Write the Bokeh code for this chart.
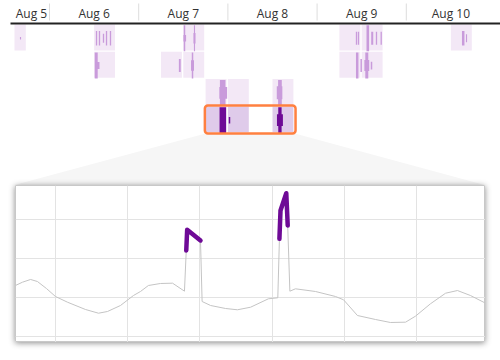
from bokeh.plotting import figure
from bokeh.layouts import column
from bokeh.models import Range1d, BoxAnnotation, FixedTicker, Grid
from bokeh.core.properties import value
from bokeh.embed import file_html
from bokeh.resources import INLINE

# ---------------- data ----------------
# time axis: hours since Aug 5 00:00
day_labels = ["Aug 5", "Aug 6", "Aug 7", "Aug 8", "Aug 9", "Aug 10"]
day_start_h = [0, 24, 48, 72, 96, 120]

# 6-hour activity blocks (row = detail level)
block_rows = [0, 0, 0, 0, 0, 0, 1, 1, 1, 1, 1, 2, 2, 2, 3, 3, 3]
block_starts = [12, 36, 60, 102, 108, 132, 36, 54, 60, 102, 108, 66, 72, 84, 66, 72, 84]
block_len_h = 6

# events inside blocks: row, time (h), duration (h), spread (share of row height)
event_rows = [0, 0, 0, 0, 0, 0, 0, 0, 0, 0,
              0, 0, 0, 0, 0, 0, 0, 0,
              1, 1, 1, 1, 1, 1, 1, 1, 1, 1,
              2, 2, 2, 2,
              3, 3, 3, 3]
event_time = [16.2, 36.65, 37.45, 38.53, 39.34, 40.41, 60.32, 60.4, 63.01, 63.01,
              106.6, 107.14, 109.64, 110.83, 111.98, 113.25, 135.31, 136.2,
              36.57, 36.9, 59.06, 62.48, 62.48, 106.79, 107.86, 109.37, 109.37, 110.64,
              70.6, 70.75, 86.0, 85.9,
              70.63, 72.43, 86.0, 86.0]
event_dur = [0.3, 0.35, 0.35, 0.35, 0.35, 0.35, 0.4, 0.7, 0.3, 0.55,
             0.35, 0.35, 0.7, 0.55, 0.35, 0.35, 0.67, 0.3,
             0.8, 1.1, 0.5, 0.4, 0.8, 0.67, 0.4, 0.8, 1.3, 0.4,
             1.5, 2.1, 1.0, 1.5,
             1.75, 0.4, 0.9, 1.6]
event_spread = [0.1, 0.55, 0.55, 0.35, 0.55, 0.55, 1.0, 0.25, 1.0, 0.4,
                0.5, 0.5, 1.0, 0.5, 0.5, 0.5, 0.55, 0.3,
                1.0, 0.27, 0.5, 1.0, 0.4, 1.0, 0.5, 1.0, 0.43, 0.3,
                1.0, 0.45, 1.0, 0.5,
                1.0, 0.25, 1.0, 0.45]

selection_start_h = 66
selection_end_h = 90
selection_row = 3

# detail series (hours on detail axis, value)
line_t = [-2.24, -1.85, -1.4, -1.02, -0.52, -0.02, 0.65, 1.65, 2.37, 2.87, 3.59, 4.31, 4.7,
          5.14, 5.81, 6.48, 7.14, 7.24, 7.29, 8.03, 8.12, 8.59, 9.42, 10.08, 10.81, 11.8,
          12.32, 12.41, 12.47, 12.79, 12.87, 12.99, 13.3, 14.41, 15.52, 15.97, 16.74, 17.74,
          18.57, 19.41, 19.96, 20.79, 21.63, 22.29, 23.01, 23.85]
line_v = [13.08, 13.92, 14.62, 14.1, 12.31, 10.26, 8.79, 6.92, 5.97, 6.41, 7.95, 10.51, 11.54,
          13.08, 13.59, 13.67, 11.62, 22.05, 27.36, 24.62, 8.97, 7.95, 7.18, 6.85, 7.51, 9.67,
          9.92, 25.05, 32.31, 36.74, 28.46, 11.62, 12.23, 11.54, 10.26, 9.41, 5.38, 4.36,
          3.59, 3.67, 5.21, 8.38, 11.1, 11.79, 10.51, 8.54]
alert_t = [[7.24, 7.29, 8.03], [12.41, 12.47, 12.79, 12.87]]
alert_v = [[22.05, 27.36, 24.62], [25.05, 32.31, 36.74, 28.46]]
grid_t = [0, 4, 8, 12, 16, 20]
grid_v = [0, 10, 20, 30]

# ---------------- layout constants ----------------
FONT = "Open Sans"
PX_H = 24 / 89.2          # hours per pixel on the timeline
X_LO = 24 - 49 * PX_H
X_HI = X_LO + 500 * PX_H
ROW_PX = 27.3
Y_HI = 24 / ROW_PX
Y_LO = Y_HI - 185 / ROW_PX
ROW_H = 0.95
VISIBLE_START = X_LO + 14 * PX_H

light_block = "#f3e8f6"
sel_block = "#dfcbea"
light_bar = "#c99bdb"
dark = "#6e0a96"

p = figure(width=500, height=185, x_range=Range1d(X_LO, X_HI), y_range=Range1d(Y_LO, Y_HI),
           output_backend="svg", toolbar_location=None, min_border=0,
           x_axis_location=None, y_axis_location=None, outline_line_color=None)
p.grid.visible = False

# funnel towards detail panel
panel_left_h = X_LO + 12 * PX_H
panel_right_h = X_LO + 486 * PX_H
sel_bottom = -selection_row - 0.99
p.patch([selection_start_h, selection_end_h, panel_right_h, panel_left_h],
        [sel_bottom, sel_bottom, Y_LO, Y_LO], fill_color="#f6f6f6", line_color=None)

# blocks
gap = 1.4 * PX_H
bl = [max(s, VISIBLE_START) for s in block_starts]
br = [s + block_len_h - gap for s in block_starts]
bt = [-r for r in block_rows]
bb = [-r - ROW_H for r in block_rows]
bc = [sel_block if r == selection_row else light_block for r in block_rows]
p.quad(left=bl, right=br, top=bt, bottom=bb, fill_color=bc, line_color=None)

# events
ey = [-r - ROW_H * 0.53 for r in event_rows]
eh = [ROW_H * s for s in event_spread]
ec = [dark if r == selection_row else light_bar for r in event_rows]
p.rect(x=event_time, y=ey, width=event_dur, height=eh, fill_color=ec, line_color=None)

# selection window
p.add_layout(BoxAnnotation(left=selection_start_h - 0.2, right=selection_end_h + 0.2,
                           top=-selection_row + 0.03, bottom=sel_bottom,
                           fill_alpha=0, line_color="#ff8040", line_alpha=1.0,
                           line_width=2.5, border_radius=3))

# time axis
axis_y = Y_HI - 23 / ROW_PX
p.segment(x0=[X_LO + 10 * PX_H], y0=[axis_y], x1=[X_HI], y1=[axis_y],
          line_color="#222222", line_width=2)
bounds = day_start_h[1:]
p.segment(x0=bounds, y0=[Y_HI - 20 / ROW_PX] * len(bounds), x1=bounds,
          y1=[Y_HI - 3 / ROW_PX] * len(bounds), line_color="#dddddd", line_width=1)
label_x = [max(s + 12, X_LO + 31 * PX_H) for s in day_start_h]
p.text(x=label_x, y=[Y_HI - 13 / ROW_PX] * len(day_labels), text=day_labels,
       text_align="center", text_baseline="middle", text_font=value(FONT),
       text_font_size="12px", text_color="#333333")

# ---------------- detail panel ----------------
p2 = figure(width=470, height=157, x_range=Range1d(-2.236, 23.846), y_range=Range1d(-1.54, 38.72),
            output_backend="svg", toolbar_location=None, min_border=0,
            x_axis_location=None, y_axis_location=None,
            outline_line_color="#c8c8c8", margin=(0, 0, 0, 15),
            styles={"box-shadow": "0px 1px 6px rgba(0,0,0,0.45)"})
p2.grid.visible = False
p2.add_layout(Grid(dimension=0, ticker=FixedTicker(ticks=grid_t), grid_line_color="#e3e3e3"))
p2.add_layout(Grid(dimension=1, ticker=FixedTicker(ticks=grid_v), grid_line_color="#e3e3e3"))
p2.line(line_t, line_v, line_color="#c4c4c4", line_width=1)
p2.multi_line(xs=alert_t, ys=alert_v, line_color=dark, line_width=4.5,
              line_cap="round", line_join="round")

layout = column(p, p2, spacing=0)
open("out.html", "w").write(file_html(layout, INLINE))
